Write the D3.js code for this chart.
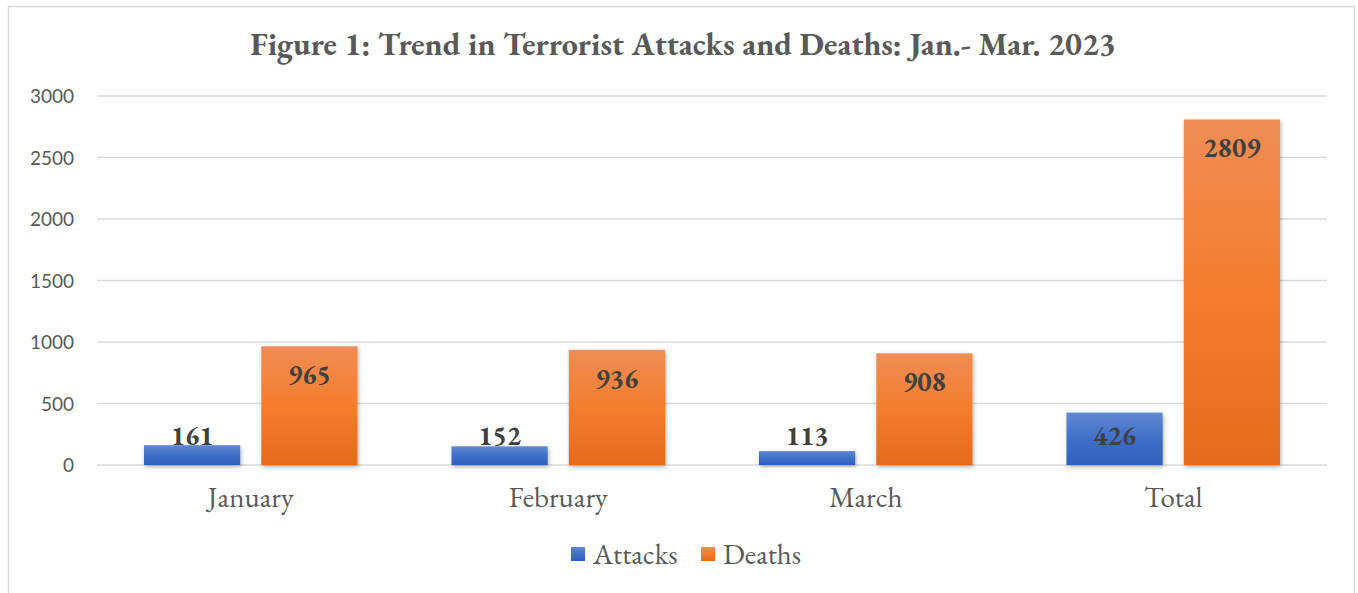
<!DOCTYPE html>
<html lang="en">
  <head>
    <meta charset="utf-8">
    <title>Terrorist Attacks and Deaths</title>
    <style type="text/css">
      body{
        margin: 0;
        background: #fff;
      }
      .yAxis text{
        font-family: Lato, "Open Sans", sans-serif;
        font-size: 19px;
        fill: #595959;
      }
      .xAxis text{
        font-family: "EB Garamond", Garamond, "Liberation Serif", serif;
        font-size: 29px;
        fill: #595959;
      }
      .labels{
        font-family: "EB Garamond", Garamond, "Liberation Serif", serif;
        font-weight: bold;
        font-size: 27px;
        fill: #404040;
      }
    </style>
    <script src="https://cdn.jsdelivr.net/npm/d3@7"></script>
  </head>
  <body>
    <div class="chart"></div>
    <script type="text/javascript">
      //categories on the x axis
      var months = ["January", "February", "March", "Total"];
      //series
      var seriesNames = ["Attacks", "Deaths"];
      var attacks = [161, 152, 113, 426];
      var deaths = [965, 936, 908, 2809];
      //y axis ticks
      var yTicks = [0, 500, 1000, 1500, 2000, 2500, 3000];

      var width = 1358, height = 593;
      var margin = {top: 96, right: 31, bottom: 128, left: 97};

      var svg = d3.select(".chart")
        .append("svg")
        .attr("width", width)
        .attr("height", height);

      var defs = svg.append("defs");

      //gradients like the excel fill
      var blue = defs.append("linearGradient")
        .attr("id", "gBlue").attr("x1", 0).attr("y1", 0).attr("x2", 0).attr("y2", 1);
      blue.append("stop").attr("offset", "0%").attr("stop-color", "#6188d3");
      blue.append("stop").attr("offset", "50%").attr("stop-color", "#3f6fc8");
      blue.append("stop").attr("offset", "100%").attr("stop-color", "#2e5fbe");

      var orange = defs.append("linearGradient")
        .attr("id", "gOrange").attr("x1", 0).attr("y1", 0).attr("x2", 0).attr("y2", 1);
      orange.append("stop").attr("offset", "0%").attr("stop-color", "#f08d55");
      orange.append("stop").attr("offset", "50%").attr("stop-color", "#f47d2e");
      orange.append("stop").attr("offset", "100%").attr("stop-color", "#e56b1b");

      var shadow = defs.append("filter").attr("id", "shadow")
        .attr("x", "-10%").attr("y", "-10%").attr("width", "130%").attr("height", "130%");
      shadow.append("feDropShadow")
        .attr("dx", 1).attr("dy", 2).attr("stdDeviation", 2)
        .attr("flood-color", "#000").attr("flood-opacity", 0.3);

      //outer chart border
      svg.append("rect")
        .attr("x", 8.5).attr("y", 6.5)
        .attr("width", 1346).attr("height", 600)
        .attr("fill", "none")
        .attr("stroke", "#d9d9d9")
        .attr("stroke-width", 1.5);

      //title
      svg.append("text")
        .attr("x", 683)
        .attr("y", 55)
        .attr("text-anchor", "middle")
        .style("font-family", "\"EB Garamond\", Garamond, \"Liberation Serif\", serif")
        .style("font-weight", "bold")
        .style("font-size", "32px")
        .style("fill", "#595959")
        .text("Figure 1: Trend in Terrorist Attacks and Deaths: Jan.- Mar. 2023");

      var innerW = width - margin.left - margin.right;
      var innerH = height - margin.top - margin.bottom;

      var g = svg.append("g")
        .attr("transform", "translate(" + margin.left + "," + margin.top + ")");

      var x = d3.scaleBand()
        .domain(months)
        .range([0, innerW]);

      //inner scale for the two series, 96px bars with 21px gap
      var xInner = d3.scaleBand()
        .domain(seriesNames)
        .range([47, x.bandwidth() - 47])
        .paddingInner(0.18);

      var y = d3.scaleLinear()
        .domain([0, 3000])
        .range([innerH, 0]);

      //gridlines
      g.append("g")
        .selectAll("line")
        .data(yTicks)
        .enter()
        .append("line")
        .attr("x1", 0)
        .attr("x2", innerW)
        .attr("y1", d => y(d))
        .attr("y2", d => y(d))
        .attr("stroke", "#d9d9d9")
        .attr("stroke-width", 1.5);

      //y axis
      g.append("g")
        .attr("class", "yAxis")
        .call(d3.axisLeft(y).tickValues(yTicks).tickFormat(d3.format("d")).tickSize(0).tickPadding(23))
        .call(a => a.select(".domain").remove())
        .selectAll("text")
        .attr("dy", "0.35em");

      //x axis
      g.append("g")
        .attr("class", "xAxis")
        .attr("transform", "translate(0," + innerH + ")")
        .call(d3.axisBottom(x).tickSize(0).tickPadding(21))
        .call(a => a.select(".domain").remove());

      var rows = months.map((m, i) => ({month: m, Attacks: attacks[i], Deaths: deaths[i]}));

      var groups = g.selectAll(".grp")
        .data(rows)
        .enter()
        .append("g")
        .attr("class", "grp")
        .attr("transform", d => "translate(" + x(d.month) + ",0)");

      var cells = groups.selectAll(".cell")
        .data(d => seriesNames.map(s => ({key: s, value: d[s]})))
        .enter();

      cells.append("rect")
        .attr("x", d => xInner(d.key))
        .attr("y", d => y(d.value))
        .attr("width", xInner.bandwidth())
        .attr("height", d => innerH - y(d.value))
        .attr("fill", d => d.key == "Attacks" ? "url(#gBlue)" : "url(#gOrange)")
        .attr("filter", "url(#shadow)");

      //value labels, inside end, kept above the baseline for short bars
      cells.append("text")
        .attr("class", "labels")
        .attr("text-anchor", "middle")
        .attr("x", d => xInner(d.key) + xInner.bandwidth() / 2)
        .attr("y", d => Math.min(y(d.value) + 38, innerH - 20))
        .text(d => d.value);

      //legend
      var legend = svg.append("g").attr("transform", "translate(571,554)");
      var legendX = [0, 130];
      seriesNames.forEach(function(s, i){
        legend.append("rect")
          .attr("x", legendX[i])
          .attr("y", -7)
          .attr("width", 14)
          .attr("height", 14)
          .attr("fill", i == 0 ? "url(#gBlue)" : "url(#gOrange)");
        legend.append("text")
          .attr("x", legendX[i] + 22)
          .attr("y", 0)
          .attr("dy", "0.35em")
          .style("font-family", "\"EB Garamond\", Garamond, \"Liberation Serif\", serif")
          .style("font-size", "29px")
          .style("fill", "#595959")
          .text(s);
      });
    </script>
  </body>
</html>
